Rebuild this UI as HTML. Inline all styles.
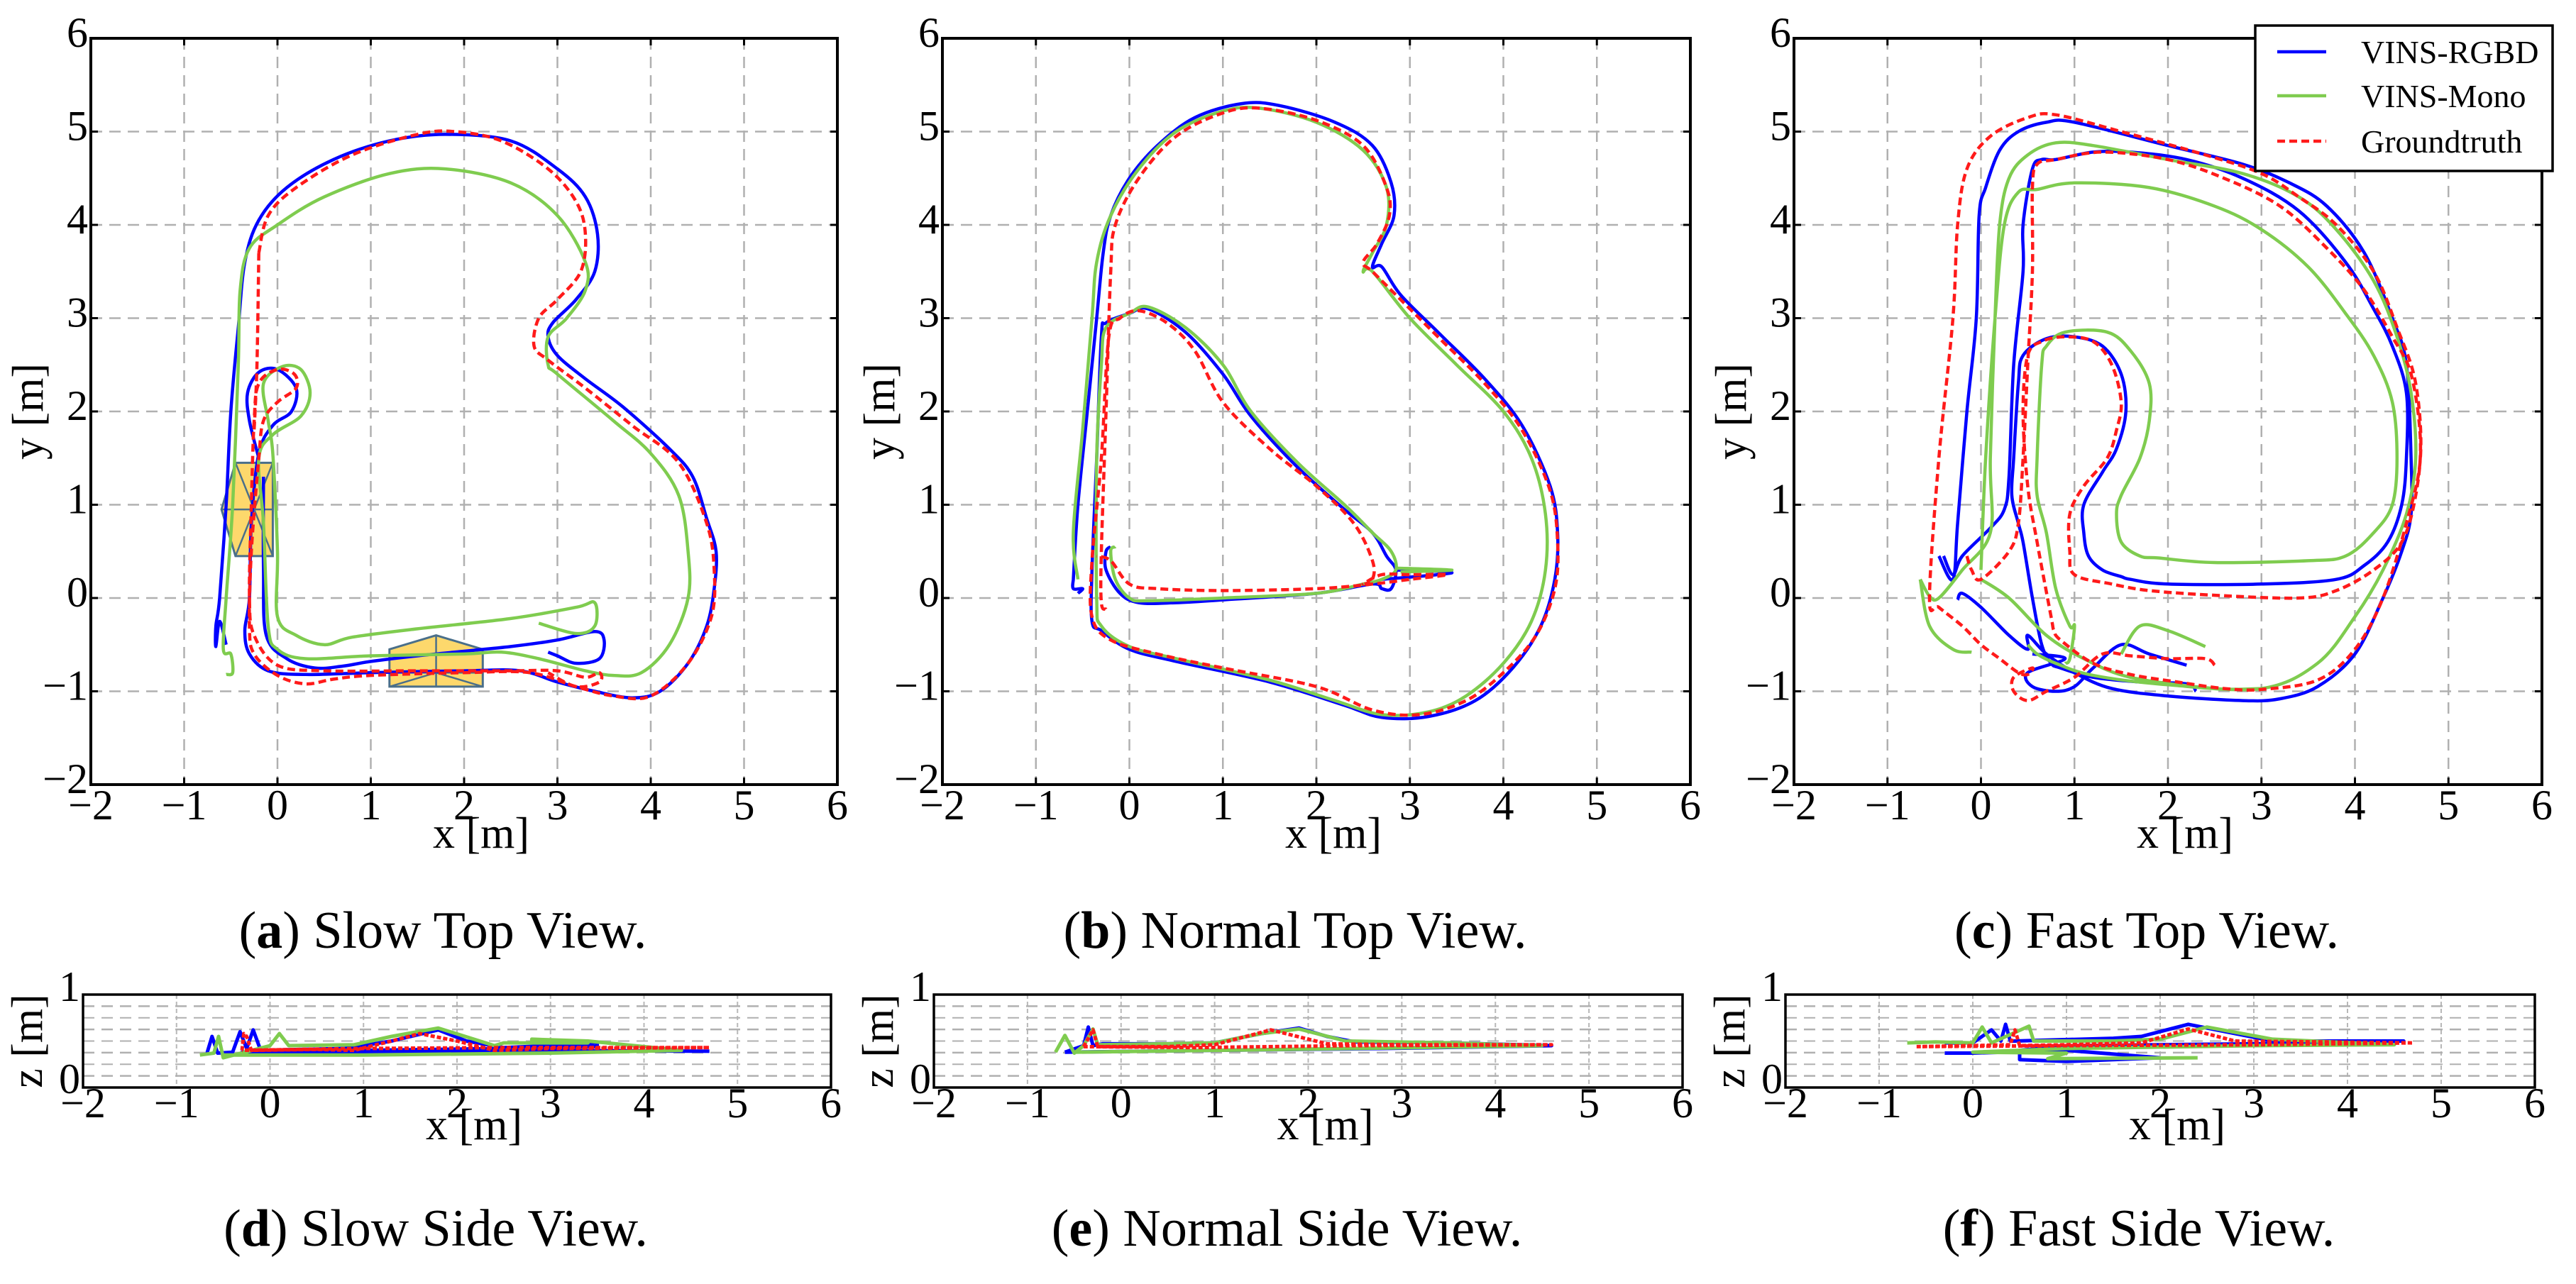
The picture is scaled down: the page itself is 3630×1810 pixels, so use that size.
<!DOCTYPE html>
<html><head><meta charset="utf-8"><style>
html,body{margin:0;padding:0;background:#fff;}
svg{display:block;font-family:"Liberation Serif",serif;}
</style></head><body>
<svg id="fig" xmlns="http://www.w3.org/2000/svg" width="3630" height="1810" viewBox="0 0 3630 1810"></svg>
<script>
// ---------- data (meters) ----------
const xTicks = [-2,-1,0,1,2,3,4,5,6];
const yTicks = [-2,-1,0,1,2,3,4,5,6];
const zTicks = [0,1];
const captionsTop = ["Slow Top View.","Normal Top View.","Fast Top View."];
const captionsSide = ["Slow Side View.","Normal Side View.","Fast Side View."];
const letterTop = ["a","b","c"];
const letterSide = ["d","e","f"];

const slowRGBD = [[-0.15,1.3],[-0.15,0.3],[-0.12,-0.4],[0.1,-0.65],[0.4,-0.75],[0.7,-0.73],[1.0,-0.68],[1.5,-0.62],[2.0,-0.57],[2.5,-0.52],[3.0,-0.45],[3.4,-0.36],[3.5,-0.45],[3.45,-0.65],[3.2,-0.7],[3.0,-0.62],[2.9,-0.58],null,
[-0.2,1.5],[-0.3,1.9],[-0.32,2.2],[-0.2,2.42],[0.0,2.45],[0.2,2.25],[0.15,2.0],[-0.05,1.85],[-0.2,1.55],[-0.28,0.8],[-0.3,0.0],[-0.35,-0.35],[-0.3,-0.6],[-0.1,-0.78],[0.3,-0.82],[1.0,-0.8],[2.0,-0.78],[2.6,-0.78],[3.0,-0.9],[3.4,-1.0],[3.8,-1.07],[4.1,-1.0],[4.4,-0.7],[4.6,-0.3],[4.68,0.1],[4.7,0.5],[4.6,0.85],[4.45,1.3],[4.2,1.6],[3.7,2.05],[3.3,2.35],[3.0,2.6],[2.9,2.8],[2.95,2.95],[3.2,3.2],[3.4,3.5],[3.43,3.9],[3.3,4.3],[3.0,4.6],[2.5,4.9],[1.8,4.97],[1.2,4.9],[0.6,4.7],[0.1,4.4],[-0.2,4.05],[-0.35,3.6],[-0.42,2.9],[-0.5,2.0],[-0.55,1.0],[-0.62,0.0],[-0.66,-0.3],[-0.66,-0.52],[-0.62,-0.25],[-0.55,-0.5]];
const slowMono = [[-0.55,-0.82],[-0.48,-0.8],[-0.5,-0.6],[-0.58,-0.55],[-0.55,0.0],[-0.48,1.0],[-0.42,2.5],[-0.4,3.3],[-0.3,3.75],[0.0,4.0],[0.5,4.3],[1.2,4.55],[1.8,4.6],[2.5,4.45],[3.0,4.1],[3.3,3.6],[3.3,3.3],[3.1,3.0],[2.9,2.8],[2.9,2.5],[3.0,2.4],[3.6,1.9],[4.0,1.55],[4.3,1.1],[4.4,0.5],[4.4,0.0],[4.2,-0.5],[3.9,-0.8],[3.6,-0.83],[3.3,-0.78],[2.8,-0.65],[2.4,-0.58],[2.0,-0.6],[1.0,-0.62],[0.3,-0.65],[0.0,-0.55],[-0.1,-0.3],[-0.15,0.8],[-0.2,1.5],[-0.05,1.75],[0.25,1.95],[0.35,2.2],[0.25,2.45],[0.05,2.48],[-0.15,2.3],[-0.1,1.9],[-0.05,1.55],[0.0,0.5],[0.0,-0.2],[0.2,-0.4],[0.5,-0.5],[0.8,-0.42],[1.5,-0.33],[2.5,-0.22],[3.2,-0.1],[3.4,-0.05],[3.4,-0.3],[3.2,-0.38],[2.8,-0.27]];
const slowGT = [[-0.2,3.7],[-0.1,4.1],[0.2,4.4],[0.8,4.75],[1.5,4.97],[1.9,5.0],[2.4,4.9],[2.9,4.6],[3.2,4.25],[3.3,3.9],[3.25,3.5],[3.0,3.2],[2.8,3.0],[2.75,2.7],[2.9,2.55],[3.3,2.25],[3.8,1.85],[4.3,1.45],[4.6,0.8],[4.68,0.3],[4.65,-0.2],[4.4,-0.7],[4.0,-1.05],[3.6,-1.05],[3.2,-0.95],[2.7,-0.8],[2.0,-0.8],[1.0,-0.83],[0.6,-0.87],[0.3,-0.92],[0,-0.83],[-0.25,-0.6],[-0.3,-0.3],[-0.28,0.5],[-0.2,1.5],[-0.15,1.9],[0.0,2.1],[0.2,2.25],[0.18,2.4],[0.0,2.45],[-0.2,2.3],[-0.25,1.9],[-0.28,1.0],[-0.3,0.0],[-0.25,-0.4],[0,-0.72],[0.5,-0.78],[1.5,-0.78],[2.5,-0.78],[3.0,-0.78],[3.3,-0.85],[3.45,-0.8],[3.45,-0.9],[3.2,-0.95],[2.9,-0.8],null,[-0.2,3.7],[-0.22,2.5],[-0.25,1.8]];

const normRGBD = [[-0.6,0.2],[-0.6,0.1],[-0.5,0.1],[-0.55,0.05],null,[-0.6,0.2],[-0.55,1.0],[-0.45,2.0],[-0.35,3.0],[-0.28,3.7],[-0.2,4.1],[0.0,4.5],[0.3,4.85],[0.7,5.15],[1.2,5.3],[1.6,5.28],[2.2,5.1],[2.6,4.85],[2.8,4.45],[2.83,4.1],[2.7,3.8],[2.6,3.55],[2.7,3.55],[2.9,3.25],[3.3,2.85],[3.8,2.35],[4.2,1.85],[4.5,1.2],[4.58,0.7],[4.55,0.2],[4.4,-0.3],[4.1,-0.75],[3.7,-1.1],[3.2,-1.27],[2.7,-1.28],[2.3,-1.15],[1.5,-0.9],[0.5,-0.68],[0.0,-0.55],[-0.3,-0.35],[-0.4,-0.25],[-0.4,0.3],[-0.35,1.5],[-0.3,2.8],[-0.25,2.95],[0.0,3.05],[0.2,3.1],[0.6,2.85],[1.0,2.4],[1.3,1.95],[1.8,1.4],[2.3,0.95],[2.6,0.7],[2.75,0.45],[2.85,0.3],[2.8,0.1],[2.7,0.1],[2.6,0.15],[2.0,0.05],[1.0,-0.02],[0.5,-0.05],[0.1,-0.05],[-0.1,0.05],[-0.25,0.3],[-0.25,0.5],[-0.2,0.55],null,[2.85,0.3],[3.45,0.27],[2.7,0.2]];
const normMono = [[-0.55,0.2],[-0.6,0.7],[-0.5,1.8],[-0.4,3.0],[-0.35,3.6],[-0.2,4.1],[0.1,4.6],[0.5,5.0],[1.0,5.22],[1.4,5.25],[2.0,5.1],[2.5,4.8],[2.75,4.4],[2.75,4.0],[2.6,3.7],[2.5,3.5],[2.6,3.5],[3.0,3.0],[3.5,2.5],[4.0,2.0],[4.3,1.5],[4.45,0.9],[4.45,0.3],[4.3,-0.25],[4.0,-0.7],[3.6,-1.05],[3.2,-1.22],[2.7,-1.25],[2.2,-1.1],[1.5,-0.88],[0.5,-0.65],[0,-0.52],[-0.3,-0.3],[-0.35,0.0],[-0.35,1.5],[-0.3,2.5],[-0.25,2.9],[0.0,3.05],[0.2,3.12],[0.6,2.9],[1.0,2.5],[1.3,2.0],[1.8,1.45],[2.3,1.0],[2.6,0.7],[2.8,0.5],[2.85,0.3],[2.7,0.2],[2.5,0.15],[2.0,0.05],[1.0,0.0],[0.2,-0.03],[0.0,0.0],[-0.15,0.2],[-0.2,0.5],[-0.15,0.55],null,[2.85,0.32],[3.45,0.3],[2.9,0.28]];
const normGT = [[-0.25,-0.12],[-0.3,-0.05],[-0.3,0.5],[-0.25,2.0],[-0.2,3.5],[-0.15,4.0],[0.1,4.5],[0.5,4.95],[1.0,5.2],[1.4,5.25],[2.0,5.12],[2.5,4.85],[2.75,4.4],[2.78,4.1],[2.65,3.8],[2.5,3.6],[2.6,3.5],[2.9,3.2],[3.3,2.8],[3.8,2.3],[4.2,1.8],[4.5,1.15],[4.58,0.6],[4.55,0.1],[4.35,-0.4],[4.0,-0.8],[3.6,-1.1],[3.1,-1.25],[2.6,-1.2],[2.0,-0.95],[1.0,-0.75],[0.3,-0.6],[-0.2,-0.45],[-0.4,-0.2],[-0.4,0.4],[-0.3,1.5],[-0.22,2.8],[-0.1,3.0],[0.1,3.08],[0.4,2.95],[0.7,2.65],[1.0,2.1],[1.5,1.6],[2.0,1.2],[2.4,0.8],[2.6,0.4],[2.6,0.2],[2.5,0.15],[2.7,0.25],[3.0,0.25],[3.4,0.25],[3.0,0.2],[2.6,0.15],[2.0,0.1],[1.0,0.08],[0.3,0.1],[0.0,0.15],[-0.2,0.4],[-0.35,0.45]];

const fastRGBD = [[-0.4,0.45],[-0.3,0.25],[-0.2,0.45],[0.1,0.75],[0.25,0.95],[0.3,1.3],[0.35,2.5],[0.45,3.5],[0.45,4.0],[0.55,4.6],[0.65,4.7],[0.8,4.7],[1.2,4.78],[1.6,4.78],[2.2,4.7],[2.8,4.5],[3.4,4.15],[3.9,3.6],[4.2,3.1],[4.4,2.7],[4.55,2.2],[4.55,1.5],[4.5,1.0],[4.35,0.6],[4.1,0.35],[3.8,0.2],[3.0,0.15],[2.0,0.15],[1.6,0.2],[1.5,0.23],[1.3,0.3],[1.15,0.45],[1.1,0.7],[1.1,1.0],[1.3,1.35],[1.45,1.6],[1.55,2.0],[1.5,2.4],[1.3,2.7],[1.0,2.8],[0.7,2.78],[0.45,2.6],[0.4,2.3],[0.35,1.5],[0.33,1.1],[0.4,0.8],[0.45,0.6],[0.55,0.0],[0.65,-0.5],[0.75,-0.7],[0.85,-0.75],[1.2,-0.85],[1.7,-0.9],[2.2,-0.92],[2.3,-1.0],null,
[-0.25,-0.02],[-0.2,0.05],[0.0,-0.1],[0.3,-0.4],[0.5,-0.55],[0.5,-0.4],[0.7,-0.6],[1.0,-0.8],[1.4,-0.97],[2.0,-1.05],[2.8,-1.1],[3.2,-1.08],[3.6,-0.95],[4.0,-0.6],[4.3,0.0],[4.5,0.5],[4.6,0.9],[4.6,1.5],[4.55,2.5],[4.4,3.0],[4.1,3.7],[3.7,4.2],[3.3,4.45],[2.8,4.65],[2.0,4.85],[1.0,5.1],[0.7,5.1],[0.4,5.0],[0.2,4.8],[0.05,4.4],[-0.02,4.1],[-0.05,3.0],[-0.15,2.0],[-0.25,0.8],[-0.3,0.2],[-0.45,0.45],null,
[0.55,-0.6],[0.9,-0.65],[0.5,-0.8],[0.55,-0.95],[0.8,-1.0],[1.0,-0.95],[1.2,-0.75],[1.5,-0.5],[1.8,-0.6],[2.2,-0.72]];
const fastMono = [[-0.65,0.2],[-0.55,0.02],[-0.45,0.0],[-0.2,0.3],[0.1,0.7],[0.1,1.5],[0.15,3.0],[0.2,4.0],[0.3,4.5],[0.5,4.75],[0.8,4.88],[1.2,4.85],[2.0,4.7],[2.8,4.55],[3.4,4.3],[3.8,3.95],[4.2,3.4],[4.45,2.8],[4.6,2.2],[4.65,1.5],[4.55,0.9],[4.3,0.3],[4.0,-0.2],[3.6,-0.7],[3.0,-0.97],[2.0,-0.93],[1.2,-0.83],[0.8,-0.7],[0.6,-0.6],[0.5,-0.5],null,
[0.0,0.3],[0.05,1.5],[0.15,3.0],[0.25,4.0],[0.4,4.35],[0.6,4.38],[1.0,4.45],[1.8,4.4],[2.5,4.2],[3.0,3.95],[3.5,3.55],[3.9,3.05],[4.2,2.6],[4.4,2.1],[4.45,1.5],[4.4,1.0],[4.2,0.7],[3.9,0.45],[3.5,0.4],[2.5,0.38],[1.9,0.43],[1.7,0.45],[1.5,0.6],[1.45,0.9],[1.5,1.1],[1.7,1.5],[1.8,1.9],[1.8,2.3],[1.6,2.65],[1.35,2.85],[0.9,2.85],[0.7,2.7],[0.65,2.5],[0.6,1.5],[0.6,1.1],[0.7,0.7],[0.8,0.1],[0.95,-0.3],[1.0,-0.3],[0.95,-0.65],[0.9,-0.7],null,
[0.0,0.2],[0.3,0.0],[0.7,-0.4],[1.1,-0.65],[1.6,-0.85],[2.5,-0.97],[3.0,-0.97],null,[1.5,-0.6],[1.7,-0.3],[2.0,-0.35],[2.4,-0.52],null,[-0.65,0.2],[-0.55,-0.3],[-0.3,-0.55],[-0.1,-0.58]];
const fastGT = [[-0.15,0.45],[-0.1,0.3],[0.0,0.2],[0.3,0.5],[0.4,0.8],[0.45,1.5],[0.5,2.5],[0.55,3.5],[0.55,4.4],[0.6,4.65],[0.8,4.7],[1.3,4.78],[2.0,4.7],[2.6,4.5],[3.2,4.2],[3.7,3.75],[4.1,3.3],[4.4,2.8],[4.6,2.4],[4.7,1.7],[4.65,1.1],[4.5,0.6],[4.2,0.3],[3.8,0.08],[3.4,0.0],[2.5,0.03],[1.8,0.08],[1.4,0.15],[1.0,0.25],[0.95,0.5],[0.95,0.9],[1.1,1.2],[1.35,1.5],[1.45,1.8],[1.5,2.1],[1.4,2.5],[1.2,2.75],[0.9,2.8],[0.65,2.75],[0.5,2.6],[0.45,2.0],[0.5,1.2],[0.6,0.6],[0.75,-0.2],[0.78,-0.35],[0.85,-0.45],[1.2,-0.7],[1.6,-0.82],[2.1,-0.9],[2.6,-0.97],[3.0,-0.98],[3.6,-0.88],[4.0,-0.55],[4.3,0.0],[4.55,0.8],[4.7,1.5],[4.65,2.3],[4.45,2.9],[4.2,3.5],[3.8,4.0],[3.4,4.3],[3.0,4.55],[2.4,4.75],[1.5,5.0],[0.8,5.18],[0.5,5.15],[0.1,4.95],[-0.15,4.6],[-0.25,4.0],[-0.3,3.0],[-0.45,1.5],[-0.55,0.0],[-0.45,-0.1],[-0.2,-0.3],[0.0,-0.5],[0.2,-0.65],[0.4,-0.8],[0.5,-0.82],[0.55,-0.75],[0.35,-0.85],[0.35,-1.0],[0.5,-1.1],[0.7,-1.0],[1.0,-0.85],[1.3,-0.6],[1.6,-0.62],[2.0,-0.65],[2.4,-0.65],[2.5,-0.72]];

// side views: [x, z]
const slowSideRGBD = [[-0.68,0.35],[-0.62,0.55],[-0.56,0.37],[-0.4,0.38],[-0.32,0.6],[-0.25,0.42],[-0.18,0.62],[-0.1,0.4],[0.8,0.42],[1.3,0.5],[1.8,0.62],[2.1,0.5],[2.5,0.43],[3.0,0.45],[3.5,0.48],[3.5,0.44],[2.5,0.42],[1.0,0.4],[0,0.4],[-0.3,0.38],[0.8,0.36],[2.5,0.4],[4.7,0.39]];
const slowSideMono = [[-0.75,0.35],[-0.6,0.37],[-0.55,0.55],[-0.5,0.32],[0,0.45],[0.1,0.58],[0.2,0.45],[0.9,0.46],[1.3,0.55],[1.8,0.64],[2.4,0.45],[2.5,0.48],[3.4,0.48],[2.8,0.5],[2.8,0.52],[3.4,0.5],[4.4,0.4],[3.0,0.37],[1.0,0.35],[-0.5,0.35]];
const slowSideGT = [[-0.3,0.4],[-0.28,0.58],[-0.25,0.55],[-0.2,0.4],[0.5,0.41],[0.9,0.4],[1.3,0.5],[1.6,0.58],[2.0,0.5],[2.4,0.4],[3.0,0.42],[4.7,0.43],[2.5,0.43],[1.0,0.42],[-0.3,0.4]];
const normSideRGBD = [[-0.6,0.38],[-0.4,0.45],[-0.35,0.65],[-0.3,0.45],[-0.2,0.47],[0.5,0.47],[1.0,0.48],[1.5,0.58],[1.9,0.64],[2.2,0.55],[2.5,0.49],[3.5,0.48],[4.6,0.45],[2.8,0.42],[1.0,0.4],[-0.6,0.38]];
const normSideMono = [[-0.7,0.38],[-0.6,0.56],[-0.5,0.37],[-0.4,0.45],[-0.3,0.63],[-0.25,0.46],[0.5,0.47],[1.0,0.48],[1.5,0.58],[1.9,0.63],[2.4,0.5],[3.5,0.48],[4.5,0.45],[2.5,0.42],[1.0,0.4],[-0.5,0.38]];
const normSideGT = [[-0.4,0.44],[-0.3,0.62],[-0.28,0.55],[-0.25,0.44],[0.5,0.44],[1.0,0.46],[1.6,0.62],[2.2,0.47],[3.0,0.46],[4.6,0.46],[2.5,0.45],[0.8,0.43],[-0.4,0.44]];
const fastSideRGBD = [[-0.3,0.48],[0.0,0.48],[0.2,0.62],[0.3,0.5],[0.35,0.68],[0.4,0.5],[0.45,0.5],[1.5,0.53],[1.8,0.55],[2.3,0.68],[2.7,0.6],[3.2,0.5],[4.6,0.5],[3.0,0.47],[1.0,0.45],[0.5,0.4],[0.5,0.3],[1.0,0.28],[2.0,0.32],[1.0,0.4],[0,0.37],[-0.3,0.37]];
const fastSideMono = [[-0.7,0.48],[-0.4,0.49],[0.0,0.48],[0.1,0.65],[0.2,0.48],[0.6,0.66],[0.65,0.5],[0.7,0.5],[1.5,0.5],[2.0,0.52],[2.5,0.65],[3.2,0.52],[4.5,0.46],[3.0,0.45],[1.0,0.42],[0.0,0.38],[1.0,0.37],[0.8,0.31],[2.4,0.32]];
const fastSideGT = [[-0.6,0.44],[0.0,0.45],[0.4,0.46],[0.45,0.62],[0.5,0.45],[1.0,0.46],[1.8,0.48],[2.3,0.63],[2.8,0.5],[4.7,0.48],[3.0,0.46],[1.0,0.45],[-0.6,0.44]];

// ---------- drawing ----------
const NS = "http://www.w3.org/2000/svg";
const svg = document.getElementById('fig');
function mk(tag, attrs, parent){const e=document.createElementNS(NS,tag);for(const k in attrs)e.setAttribute(k,attrs[k]);(parent||svg).appendChild(e);return e;}
const topPanels = [{L:128,R:1180},{L:1328,R:2382},{L:2528,R:3582}];
const sidePanels = [{L:117,R:1171},{L:1316,R:2371},{L:2516,R:3572}];
const TT=54, TB=1106, ST=1402, SB=1533;
const COL={rgbd:'#0000ff',mono:'#7fcc4f',gt:'#ff1a1a'};
const topData=[[slowRGBD,slowMono,slowGT],[normRGBD,normMono,normGT],[fastRGBD,fastMono,fastGT]];
const sideData=[[slowSideRGBD,slowSideMono,slowSideGT],[normSideRGBD,normSideMono,normSideGT],[fastSideRGBD,fastSideMono,fastSideGT]];
const keys=['rgbd','mono','gt'];

function pathFrom(pts, sx, sy){let d='',pen=false;for(const p of pts){if(!p){pen=false;continue;}d+=(pen?'L':'M')+sx(p[0]).toFixed(1)+' '+sy(p[1]).toFixed(1);pen=true;}return d;}
function smoothFrom(pts, sx, sy){
  const segs=[];let cur=[];
  for(const p of pts){if(!p){if(cur.length)segs.push(cur);cur=[];continue;}cur.push([sx(p[0]),sy(p[1])]);}
  if(cur.length)segs.push(cur);
  let d='';
  for(const s of segs){
    d+='M'+s[0][0].toFixed(1)+' '+s[0][1].toFixed(1);
    for(let i=0;i<s.length-1;i++){
      const p0=s[Math.max(0,i-1)],p1=s[i],p2=s[i+1],p3=s[Math.min(s.length-1,i+2)];
      const c1=[p1[0]+(p2[0]-p0[0])/6,p1[1]+(p2[1]-p0[1])/6];
      const c2=[p2[0]-(p3[0]-p1[0])/6,p2[1]-(p3[1]-p1[1])/6];
      d+='C'+c1[0].toFixed(1)+' '+c1[1].toFixed(1)+' '+c2[0].toFixed(1)+' '+c2[1].toFixed(1)+' '+p2[0].toFixed(1)+' '+p2[1].toFixed(1);
    }
  }
  return d;
}

topPanels.forEach((P,i)=>{
  const sx=v=>P.L+(v+2)/8*(P.R-P.L);
  const sy=v=>TB-(v+2)/8*(TB-TT);
  const g=mk('g',{});
  
  
  xTicks.forEach(t=>{ if(t>-2&&t<6){const l=mk('line',{x1:sx(t),x2:sx(t),y1:TT,y2:TB,stroke:'#b0b0b0','stroke-width':2.5,'stroke-dasharray':'16 10'},g);}});
  yTicks.forEach(t=>{ if(t>-2&&t<6){const l=mk('line',{x1:P.L,x2:P.R,y1:sy(t),y2:sy(t),stroke:'#b0b0b0','stroke-width':2.5,'stroke-dasharray':'16 10'},g);}});
  if(i===0){
    const b1=mk('polygon',{points:[[-0.6,0.95],[-0.45,1.45],[-0.05,1.45],[-0.05,0.45],[-0.45,0.45]].map(p=>sx(p[0])+','+sy(p[1])).join(' '),fill:'#fdd86c',stroke:'#4a6f8a','stroke-width':3},g);
    
    mk('path',{d:`M${sx(-0.6)} ${sy(0.95)}L${sx(-0.05)} ${sy(0.95)}M${sx(-0.45)} ${sy(1.45)}L${sx(-0.05)} ${sy(0.45)}M${sx(-0.05)} ${sy(1.45)}L${sx(-0.45)} ${sy(0.45)}`,stroke:'#4a6f8a','stroke-width':2.5,fill:'none'},g);
    const b2=mk('polygon',{points:[[1.2,-0.55],[1.7,-0.4],[2.2,-0.55],[2.2,-0.95],[1.2,-0.95]].map(p=>sx(p[0])+','+sy(p[1])).join(' '),fill:'#fdd86c',stroke:'#4a6f8a','stroke-width':3},g);
    
    mk('path',{d:`M${sx(1.7)} ${sy(-0.4)}L${sx(1.7)} ${sy(-0.95)}M${sx(1.2)} ${sy(-0.8)}L${sx(2.2)} ${sy(-0.8)}M${sx(1.2)} ${sy(-0.95)}L${sx(1.7)} ${sy(-0.8)}L${sx(2.2)} ${sy(-0.95)}`,stroke:'#4a6f8a','stroke-width':2.5,fill:'none'},g);
  }
  topData[i].forEach((pts,k)=>{
    const p=mk('path',{d:smoothFrom(pts,sx,sy),fill:'none',stroke:COL[keys[k]],'stroke-width':4.5,'stroke-linejoin':'round'},g);
    if(keys[k]==='gt')p.setAttribute('stroke-dasharray','11 6');
    
    
  });
  const fr=mk('rect',{x:P.L,y:TT,width:P.R-P.L,height:TB-TT,fill:'none',stroke:'#000','stroke-width':4},g);
  
  xTicks.forEach(t=>{
    mk('line',{x1:sx(t),x2:sx(t),y1:TB,y2:TB-10,stroke:'#000','stroke-width':3},g);
    mk('line',{x1:sx(t),x2:sx(t),y1:TT,y2:TT+10,stroke:'#000','stroke-width':3},g);
    const tx=mk('text',{x:sx(t),y:1155,'font-size':60,'text-anchor':'middle'},g);tx.textContent=t<0?'−'+(-t):String(t);
    
  });
  yTicks.forEach(t=>{
    mk('line',{x1:P.L,x2:P.L+10,y1:sy(t),y2:sy(t),stroke:'#000','stroke-width':3},g);
    mk('line',{x1:P.R,x2:P.R-10,y1:sy(t),y2:sy(t),stroke:'#000','stroke-width':3},g);
    const tx=mk('text',{x:P.L-4,y:sy(t)+12,'font-size':60,'text-anchor':'end'},g);tx.textContent=t<0?'−'+(-t):String(t);
    
  });
  const xl=mk('text',{x:(P.L+P.R)/2+24,y:1195,'font-size':62,'text-anchor':'middle'},g);xl.textContent='x [m]';
  
  const yx=P.L-68, yy=(TT+TB)/2;
  const yl=mk('text',{x:yx,y:yy,'font-size':62,'text-anchor':'middle',transform:`rotate(-90 ${yx} ${yy})`},g);yl.textContent='y [m]';
  
  const cap=mk('text',{x:(P.L+P.R)/2-30,y:1336,'font-size':74,'text-anchor':'middle'});
  
  cap.innerHTML='(<tspan font-weight="bold">'+letterTop[i]+'</tspan>) '+captionsTop[i];
});

sidePanels.forEach((P,i)=>{
  const sx=v=>P.L+(v+2)/8*(P.R-P.L);
  const sz=v=>SB-v*(SB-ST);
  const g=mk('g',{});
  
  
  xTicks.forEach(t=>{ if(t>-2&&t<6){mk('line',{x1:sx(t),x2:sx(t),y1:ST,y2:SB,stroke:'#b8b8b8','stroke-width':2,'stroke-dasharray':'6 4'},g);}});
  for(let k=1;k<8;k++){mk('line',{x1:P.L,x2:P.R,y1:sz(k/8),y2:sz(k/8),stroke:'#b0b0b0','stroke-width':(k%2?2.5:2),'stroke-dasharray':'16 10'},g);}
  sideData[i].forEach((pts,k)=>{
    const p=mk('path',{d:pathFrom(pts,sx,sz),fill:'none',stroke:COL[keys[k]],'stroke-width':5,'stroke-linejoin':'round'},g);
    if(keys[k]==='gt')p.setAttribute('stroke-dasharray','6 3');
    
    
  });
  const fr=mk('rect',{x:P.L,y:ST,width:P.R-P.L,height:SB-ST,fill:'none',stroke:'#000','stroke-width':3.5},g);
  
  xTicks.forEach(t=>{
    const tx=mk('text',{x:sx(t),y:1575,'font-size':60,'text-anchor':'middle'},g);tx.textContent=t<0?'−'+(-t):String(t);
    
  });
  zTicks.forEach(t=>{
    const tx=mk('text',{x:P.L-4,y:t===1?1411:1541,'font-size':60,'text-anchor':'end'},g);tx.textContent=String(t);
    
  });
  const xl=mk('text',{x:(P.L+P.R)/2+24,y:1606,'font-size':62,'text-anchor':'middle'},g);xl.textContent='x [m]';
  
  const zx=P.L-58, zy=(ST+SB)/2;
  const zl=mk('text',{x:zx,y:zy,'font-size':62,'text-anchor':'middle',transform:`rotate(-90 ${zx} ${zy})`},g);zl.textContent='z [m]';
  
  const cap=mk('text',{x:(P.L+P.R)/2-30,y:1756,'font-size':74,'text-anchor':'middle'});
  
  cap.innerHTML='(<tspan font-weight="bold">'+letterSide[i]+'</tspan>) '+captionsSide[i];
});

// legend
const lg=mk('g',{});


mk('rect',{x:3178,y:36,width:419,height:205,fill:'#fff',stroke:'#000','stroke-width':3.5},lg);
const legNames=['VINS-RGBD','VINS-Mono','Groundtruth'];
const legY=[73,135,199];
legNames.forEach((n,k)=>{
  const ln=mk('line',{x1:3209,x2:3278,y1:legY[k],y2:legY[k],stroke:COL[keys[k]],'stroke-width':4.5},lg);
  if(keys[k]==='gt')ln.setAttribute('stroke-dasharray','11 6');
  
  
  const t=mk('text',{x:3327,y:legY[k]+16,'font-size':46},lg);t.textContent=n;
  
  
});
</script>
</body></html>
